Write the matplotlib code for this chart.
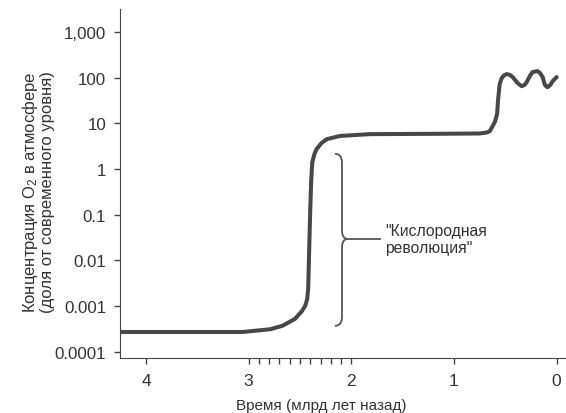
import matplotlib
matplotlib.use("Agg")
import matplotlib.pyplot as plt
from matplotlib.path import Path
from matplotlib.patches import PathPatch

# --- Data ---
time_gyr = [4.25, 3.47, 3.06, 2.79, 2.67, 2.55, 2.48, 2.45, 2.43, 2.42,
            2.41, 2.40, 2.39, 2.38, 2.36, 2.34, 2.29, 2.24, 2.11, 1.82,
            1.20, 0.75, 0.68, 0.65, 0.62, 0.60, 0.58, 0.57, 0.555, 0.535,
            0.51, 0.486, 0.455, 0.428, 0.38, 0.341, 0.31, 0.292, 0.26,
            0.234, 0.185, 0.16, 0.136, 0.117, 0.10, 0.088, 0.06, 0.039, 0.0]
o2_level = [2.7e-4, 2.7e-4, 2.7e-4, 3.1e-4, 3.7e-4, 5.2e-4, 7.8e-4, 1.0e-3, 1.4e-3, 2.4e-3,
            1.8e-2, 0.13, 0.6, 1.4, 2.1, 2.7, 3.7, 4.5, 5.3, 5.8,
            5.9, 6.0, 6.3, 6.8, 9.0, 11, 16, 34, 72, 98,
            113, 120, 115, 103, 76, 65, 70, 80, 110,
            133, 139, 125, 103, 72, 64, 62, 70, 84, 103]

y_ticks = [1e-4, 1e-3, 1e-2, 1e-1, 1, 10, 100, 1000]
y_tick_labels = ["0.0001", "0.001", "0.01", "0.1", "1", "10", "100", "1,000"]
x_ticks = [4, 3, 2, 1, 0]
x_minor_ticks = [2.9, 2.8, 2.7, 2.6, 2.5, 2.4, 2.3, 2.2, 2.1]

TEXT = "#333333"
LINE = "#474747"

plt.rcParams.update({
    "font.family": ["Liberation Sans", "DejaVu Sans"],
    "mathtext.fontset": "custom",
    "mathtext.rm": "Liberation Sans",
    "axes.spines.top": False,
    "axes.spines.right": False,
    "axes.edgecolor": "#444444",
    "xtick.color": "#444444",
    "ytick.color": "#444444",
    "xtick.labelcolor": TEXT,
    "ytick.labelcolor": TEXT,
})

fig = plt.figure(figsize=(5.66, 4.14), dpi=100)
ax = fig.add_axes([0.212, 0.133, 0.786, 0.843])

ax.plot(time_gyr, o2_level, color=LINE, lw=2.9,
        solid_joinstyle="round", solid_capstyle="round")

ax.set_yscale("log")
ax.set_ylim(7.3e-5, 3200)
ax.set_xlim(4.253, -0.08)

ax.set_yticks(y_ticks)
ax.set_yticklabels(y_tick_labels)
ax.yaxis.set_minor_locator(matplotlib.ticker.NullLocator())
ax.set_xticks(x_ticks)
ax.set_xticks(x_minor_ticks, minor=True)

ax.tick_params(axis="y", which="major", length=4, width=1, pad=6, labelsize=12.2)
ax.tick_params(axis="x", which="major", length=4, width=1, pad=7, labelsize=12.5)
ax.tick_params(axis="x", which="minor", length=4, width=1)

# axis titles
fig.text(0.066, 0.535,
         "Концентрация O$\\mathregular{_2}$ в атмосфере\n(доля от современного уровня)",
         rotation=90, ha="center", va="center", multialignment="center",
         fontsize=12, color=TEXT, linespacing=1.0)
fig.text(0.568, 0.0097, "Время (млрд лет назад)", ha="center", va="baseline",
         fontsize=11, color=TEXT)

# curly brace + label (axes fraction coords)
xs, xl, xc, xr = 0.499, 0.483, 0.512, 0.584
yt, yb, ym = 0.585, 0.092, 0.341
d = 0.025
verts = [
    (xl, yt), (xs, yt), (xs, yt - d),
    (xs, ym + d),
    (xs, ym), (xc, ym),
    (xs, ym), (xs, ym - d),
    (xs, yb + d),
    (xs, yb), (xl, yb),
]
codes = [Path.MOVETO, Path.CURVE3, Path.CURVE3,
         Path.LINETO,
         Path.CURVE3, Path.CURVE3,
         Path.CURVE3, Path.CURVE3,
         Path.LINETO,
         Path.CURVE3, Path.CURVE3]
ax.add_patch(PathPatch(Path(verts, codes), transform=ax.transAxes,
                       fill=False, edgecolor="#555555", lw=1.3, clip_on=False))
ax.plot([xc, xr], [ym, ym], transform=ax.transAxes, color="#555555", lw=1.3,
        clip_on=False)
ax.text(0.596, ym, "\"Кислородная\nреволюция\"", transform=ax.transAxes,
        ha="left", va="center", fontsize=11.3, color=TEXT, linespacing=1.15)

fig.savefig("out.png", dpi=100)
